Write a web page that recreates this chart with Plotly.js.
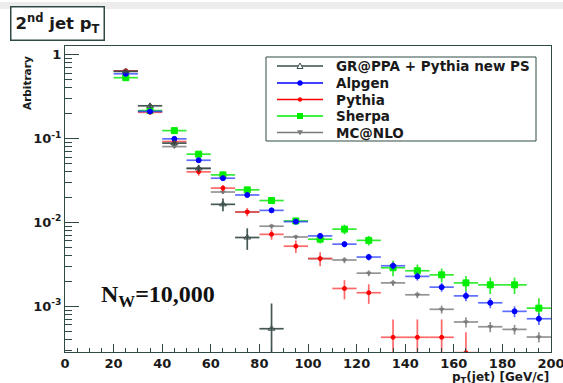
<!DOCTYPE html>
<html>
<head>
<meta charset="utf-8">
<script src="https://cdn.plot.ly/plotly-3.0.1.min.js"></script>
<style>
html,body{margin:0;padding:0;background:#fff;}
#chart{width:563px;height:383px;}
</style>
</head>
<body>
<div id="chart"></div>
<script>
// bin centres (10 GeV bins)
var binCentres = [25,35,45,55,65,75,85,95,105,115,125,135,145,155,165,175,185,195];

var grappaVals = [0.63,0.245,0.088,0.044,0.0164,0.0066,0.00054,null,null,null,null,null,null,null,null,null,null,null];
var grappaErrs = [0.02,0.012,0.006,0.0045,0.0028,0.0019,0.00054,0,0,0,0,0,0,0,0,0,0,0];

var alpgenVals = [0.59,0.21,0.099,0.055,0.0336,0.0212,0.0139,0.0102,0.0069,0.0055,0.00386,0.00304,0.00227,0.00169,0.00133,0.0011,0.00087,0.00071];
var alpgenErrs = [0.01,0.005,0.003,0.0018,0.0013,0.001,0.0008,0.0006,0.0005,0.00045,0.00035,0.0003,0.00025,0.0002,0.00018,0.00015,0.00013,0.00011];

var pythiaVals = [0.64,0.205,0.092,0.040,0.0256,0.0133,0.0072,0.0052,0.0037,0.00163,0.00145,0.000427,0.000427,0.000427,0.00028,null,null,null];
var pythiaErrs = [0.02,0.01,0.006,0.004,0.0023,0.0015,0.001,0.0009,0.0007,0.00042,0.00038,0.00027,0.00027,0.00027,0.00021,0,0,0];

var sherpaVals = [0.53,0.215,0.124,0.065,0.0368,0.0244,0.0182,0.0104,0.0063,0.0083,0.0061,0.00288,0.00265,0.00237,0.0019,0.0018,0.0018,0.00095];
var sherpaErrs = [0.015,0.008,0.005,0.003,0.002,0.0015,0.0012,0.0009,0.0007,0.0011,0.0008,0.0006,0.0005,0.00045,0.0004,0.0004,0.0004,0.0003];

var mcnloVals = [0.64,0.21,0.080,0.044,0.023,0.0133,0.009,0.0067,0.0037,0.00356,0.00248,0.0019,0.00137,0.00092,0.00065,0.00057,0.00053,0.00043];
var mcnloErrs = [0.02,0.006,0.003,0.002,0.0012,0.0008,0.0006,0.0004,0.0003,0.0003,0.0002,0.00016,0.00012,0.0001,0.00009,0.00008,0.00007,0.00006];

var seriesNames = ['GR@PPA + Pythia new PS','Alpgen','Pythia','Sherpa','MC@NLO'];
var yTickVals = [1,0.1,0.01,0.001];
var yTickText = ['1','10<sup>-1</sup>','10<sup>-2</sup>','10<sup>-3</sup>'];
var xTickVals = [0,20,40,60,80,100,120,140,160,180,200];

var frameCol = '#2f4a46';
var styles = [
  {col:'#3a4e4b', err:'rgba(50,70,66,0.9)', sym:'triangle-up-open', size:6},
  {col:'#0000ff', err:'rgba(40,60,255,0.75)', sym:'circle', size:5},
  {col:'#ff0000', err:'rgba(255,40,40,0.7)', sym:'circle', size:4},
  {col:'#00ee00', err:'rgba(0,230,0,0.8)', sym:'square', size:6},
  {col:'#7a7a7a', err:'rgba(120,120,120,0.8)', sym:'triangle-down', size:4}
];
var vals = [grappaVals, alpgenVals, pythiaVals, sherpaVals, mcnloVals];
var errs = [grappaErrs, alpgenErrs, pythiaErrs, sherpaErrs, mcnloErrs];

var traces = [];
var drawOrder = [4,3,2,1,0];
drawOrder.forEach(function(i){
  var s = styles[i];
  traces.push({
    type:'scatter', mode:'markers', x:binCentres, y:vals[i], name:seriesNames[i], showlegend:false,
    marker:{color:s.col, symbol:s.sym, size:s.size, line:{color:s.col, width:1}},
    error_x:{type:'constant', value:5, color:s.err, thickness:1.7, width:0},
    error_y:{type:'data', array:errs[i], color:s.err, thickness:1.7, width:0},
    hoverinfo:'skip'
  });
});

// geometry helpers (pixel -> paper), plot area 65..551 x 46..352
var M = {l:65, r:12, t:46, b:31};
var PW = 563 - M.l - M.r, PH = 383 - M.t - M.b;
function px(x){ return (x - M.l) / PW; }
function py(y){ return (383 - M.b - y) / PH; }

var sansWide = 'DejaVu Sans, Verdana, sans-serif';
var sans = 'Liberation Sans, Arial, sans-serif';

var shapes = [
  {type:'rect', xref:'paper', yref:'paper', x0:px(-20), x1:px(600), y0:py(2), y1:py(9),
   fillcolor:'#ececec', line:{width:0}, layer:'below'},
  // legend frame
  {type:'rect', xref:'paper', yref:'paper', x0:px(266), x1:px(536), y0:py(57), y1:py(141),
   fillcolor:'#ffffff', line:{color:frameCol, width:1}}
];
var annotations = [];
var rowY = [66, 83, 99.5, 116, 132.5];
for (var i=0;i<5;i++){
  var s = styles[i], yy = rowY[i];
  shapes.push({type:'line', xref:'paper', yref:'paper', x0:px(277), x1:px(323), y0:py(yy), y1:py(yy),
    line:{color:s.col, width:1.3}});
  var cx = 300;
  if (i===0){
    shapes.push({type:'path', xref:'paper', yref:'paper',
      path:'M'+px(cx-3)+','+py(yy+2.5)+' L'+px(cx+3)+','+py(yy+2.5)+' L'+px(cx)+','+py(yy-3)+' Z',
      fillcolor:'#ffffff', line:{color:s.col, width:1}});
  } else if (i===1){
    shapes.push({type:'circle', xref:'paper', yref:'paper', x0:px(cx-2.5), x1:px(cx+2.5), y0:py(yy+2.5), y1:py(yy-2.5),
      fillcolor:s.col, line:{color:s.col, width:0.5}});
  } else if (i===2){
    shapes.push({type:'circle', xref:'paper', yref:'paper', x0:px(cx-2), x1:px(cx+2), y0:py(yy+2), y1:py(yy-2),
      fillcolor:s.col, line:{color:s.col, width:0.5}});
  } else if (i===3){
    shapes.push({type:'rect', xref:'paper', yref:'paper', x0:px(cx-3), x1:px(cx+3), y0:py(yy+3), y1:py(yy-3),
      fillcolor:s.col, line:{color:s.col, width:0}});
  } else {
    shapes.push({type:'path', xref:'paper', yref:'paper',
      path:'M'+px(cx-2.5)+','+py(yy-2)+' L'+px(cx+2.5)+','+py(yy-2)+' L'+px(cx)+','+py(yy+2.5)+' Z',
      fillcolor:s.col, line:{color:s.col, width:0.5}});
  }
  annotations.push({xref:'paper', yref:'paper', x:px(334), y:py(yy), xanchor:'left', yanchor:'middle',
    text:seriesNames[i], showarrow:false,
    font:{family:sansWide, size:13.5, color:'#1a1a1a', weight:'bold'}});
}

annotations.push(
  {xref:'paper', yref:'paper', x:px(10), y:py(6), xanchor:'left', yanchor:'top',
   text:'2<sup>nd</sup> jet p<sub>T</sub>', showarrow:false,
   font:{family:sansWide, size:16.5, color:'#1a1a1a', weight:'bold'},
   bordercolor:frameCol, borderwidth:1.5, borderpad:4, bgcolor:'#ffffff'},
  {xref:'paper', yref:'paper', x:px(27), y:py(54), xanchor:'center', yanchor:'top',
   text:'Arbitrary', textangle:-90, showarrow:false,
   font:{family:sansWide, size:10.5, color:'#1a1a1a', weight:'bold'}},
  {xref:'paper', yref:'paper', x:1, y:py(378), xanchor:'right', yanchor:'middle',
   text:'p<sub>T</sub>(jet) [GeV/c]', showarrow:false,
   font:{family:sansWide, size:12, color:'#1a1a1a', weight:'bold'}},
  {xref:'paper', yref:'paper', x:px(99), y:py(296), xanchor:'left', yanchor:'middle',
   text:'N<sub>W</sub>=10,000', showarrow:false,
   font:{family:'Liberation Serif, Times New Roman, serif', size:24, color:'#111111', weight:'bold'}}
);

var layout = {
  width:563, height:383,
  margin:M,
  paper_bgcolor:'#ffffff', plot_bgcolor:'#ffffff',
  font:{family:sans, color:'#1a1a1a'},
  showlegend:false,
  xaxis:{
    range:[0,200], showgrid:false, zeroline:false,
    showline:true, linecolor:frameCol, linewidth:1, mirror:true,
    ticks:'inside', ticklen:8, tickcolor:frameCol, tickwidth:1,
    tickvals:xTickVals, ticktext:xTickVals.map(String),
    ticklabeloverflow:'allow', ticklabelstandoff:-1,
    tickfont:{family:sansWide, size:13, color:'#1a1a1a', weight:'bold'},
    minor:{ticks:'inside', dtick:5, ticklen:4, tickcolor:frameCol, showgrid:false}
  },
  yaxis:{
    type:'log', range:[-3.545,0.102], showgrid:false, zeroline:false,
    showline:true, linecolor:frameCol, linewidth:1, mirror:true,
    ticks:'inside', ticklen:14, tickcolor:frameCol, tickwidth:1,
    tickvals:yTickVals, ticktext:yTickText,
    tickfont:{family:sansWide, size:13, color:'#1a1a1a', weight:'bold'},
    minor:{ticks:'inside', dtick:'D1', ticklen:7, tickcolor:frameCol, showgrid:false}
  },
  annotations:annotations,
  shapes:shapes
};
Plotly.newPlot('chart', traces, layout, {displayModeBar:false, staticPlot:true});
</script>
</body>
</html>
